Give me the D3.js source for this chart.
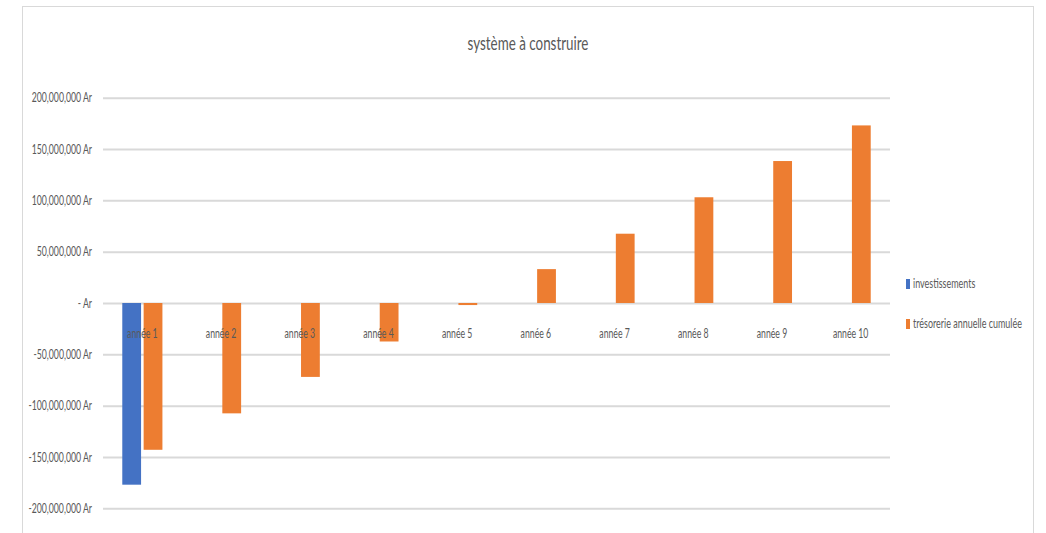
<!DOCTYPE html>
<html>
<head>
<meta charset="utf-8">
<script src="https://cdn.jsdelivr.net/npm/d3@7"></script>
<style>
  body { margin: 0; background: #fff; }
  text { font-family: Lato, "Open Sans", sans-serif; fill: #595959; }
</style>
</head>
<body>
<div id="chart"></div>
<script>
// values
var categories = ["année 1", "année 2", "année 3", "année 4", "année 5",
  "année 6", "année 7", "année 8", "année 9", "année 10"];
var seriesNames = ["investissements", "trésorerie annuelle cumulée"];
var investissements = [-177000000, null, null, null, null, null, null, null, null, null];
var tresorerie = [-143000000, -107500000, -72000000, -37500000, -2000000,
  33000000, 67500000, 103000000, 138300000, 173000000];
var yTicks = [-200000000, -150000000, -100000000, -50000000, 0,
  50000000, 100000000, 150000000, 200000000];

var colors = ["#4472C4", "#ED7D31"];
var sx = 0.67; // the picture's text is squeezed sideways

var width = 1046, height = 533;
var plot = { left: 103, right: 890, top: 97.7, bottom: 508.3 };

var svg = d3.select("#chart").append("svg")
  .attr("width", width)
  .attr("height", height);

// chart frame
svg.append("rect")
  .attr("x", 22.5).attr("y", 6.5)
  .attr("width", 1011).attr("height", 540)
  .attr("fill", "none")
  .attr("stroke", "#d9d9d9");

var locale = d3.formatLocale({ decimal: ".", thousands: ",", grouping: [3], currency: ["", ""], minus: "-" });
var fmt = locale.format(",");

var y = d3.scaleLinear()
  .domain([-200000000, 200000000])
  .range([plot.bottom, plot.top]);

var x = d3.scaleBand()
  .domain(categories)
  .range([plot.left, plot.right])
  .paddingInner(0.49)
  .paddingOuter(0.245);

var xs = d3.scaleBand()
  .domain(seriesNames)
  .range([0, x.bandwidth()])
  .paddingInner(0.12);

// gridlines + y labels
var yAxis = d3.axisLeft(y)
  .tickValues(yTicks)
  .tickSize(-(plot.right - plot.left))
  .tickFormat(function(d) { return d === 0 ? "- Ar" : fmt(d) + " Ar"; });

var gy = svg.append("g")
  .attr("transform", "translate(" + plot.left + ",0)")
  .call(yAxis);
gy.select(".domain").remove();
gy.selectAll("line")
  .attr("stroke", "#d9d9d9")
  .attr("stroke-width", 2);
gy.selectAll("text")
  .attr("x", -11 / sx)
  .attr("transform", "scale(" + sx + ",1)")
  .style("font-size", "13px")
  .attr("fill", "#595959");

// bars
var data = [investissements, tresorerie];
data.forEach(function(values, si) {
  svg.append("g").selectAll("rect")
    .data(values.map(function(v, i) { return { cat: categories[i], v: v }; })
      .filter(function(d) { return d.v !== null; }))
    .enter().append("rect")
    .attr("x", function(d) { return x(d.cat) + xs(seriesNames[si]); })
    .attr("width", xs.bandwidth())
    .attr("y", function(d) { return y(Math.max(0, d.v)); })
    .attr("height", function(d) { return Math.abs(y(d.v) - y(0)); })
    .attr("fill", colors[si]);
});

// category labels, drawn over the bars
svg.append("g").selectAll("text")
  .data(categories)
  .enter().append("text")
  .attr("transform", function(d) {
    return "translate(" + (x(d) + x.bandwidth() / 2) + "," + 338 + ") scale(" + sx + ",1)";
  })
  .attr("text-anchor", "middle")
  .style("font-size", "13px")
  .text(function(d) { return d; });

// title
svg.append("text")
  .attr("transform", "translate(528,50) scale(" + sx + ",1)")
  .attr("text-anchor", "middle")
  .style("font-size", "20px")
  .text("système à construire");

// legend
var legend = svg.append("g").selectAll("g")
  .data(seriesNames)
  .enter().append("g")
  .attr("transform", function(d, i) { return "translate(906," + (279 + i * 40) + ")"; });

legend.append("rect")
  .attr("width", 4)
  .attr("height", 10)
  .attr("fill", function(d, i) { return colors[i]; });

legend.append("text")
  .attr("transform", "translate(7,9) scale(0.69,1)")
  .style("font-size", "13px")
  .text(function(d) { return d; });
</script>
</body>
</html>
